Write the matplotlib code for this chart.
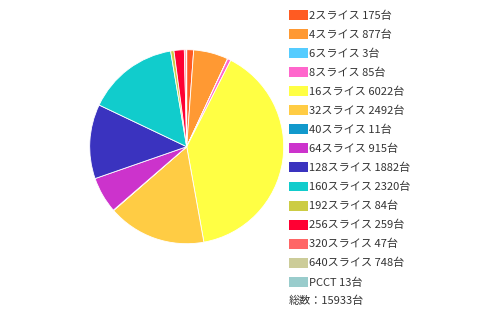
import matplotlib
matplotlib.use('Agg')
import matplotlib.pyplot as plt
from matplotlib.patches import Patch

plt.rcParams['font.family'] = ['Noto Sans CJK JP', 'DejaVu Sans']

# データ
labels = ['2スライス', '4スライス', '6スライス', '8スライス', '16スライス', '32スライス',
          '40スライス', '64スライス', '128スライス', '160スライス', '192スライス',
          '256スライス', '320スライス', '640スライス', 'PCCT']
counts = [175, 877, 3, 85, 6022, 2492, 11, 915, 1882, 2320, 84, 259, 47, 748, 13]
# 円グラフには640スライスが描かれていない
pie_counts = [175, 877, 3, 85, 6022, 2492, 11, 915, 1882, 2320, 84, 259, 47, 0, 13]
colors = ['#ff5b22', '#ff9933', '#55ccff', '#ff66cc', '#ffff44', '#ffcc44',
          '#1199cc', '#cc33cc', '#3a33bf', '#11cccc', '#cccc44', '#ff0033',
          '#ff6666', '#cccc99', '#99cccc']
total = sum(counts)

fig = plt.figure(figsize=(5, 3.12), dpi=100)

# 円グラフ
ax = fig.add_axes([(186.7 - 97) / 500, (312 - 146.7 - 97) / 312, 194 / 500, 194 / 312])
ax.pie(pie_counts, colors=colors, startangle=90, counterclock=False,
       wedgeprops={'edgecolor': 'white', 'linewidth': 0.6})
ax.set_xlim(-1.0, 1.0)
ax.set_ylim(-1.0, 1.0)
ax.set_aspect('equal')

# 凡例
handles = [Patch(facecolor=c, edgecolor='none') for c in colors]
leg_labels = ['{} {}台'.format(l, n) for l, n in zip(labels, counts)]
fig.legend(handles, leg_labels, loc='upper left',
           bbox_to_anchor=(289 / 500, 1 - 10 / 312), frameon=False,
           fontsize=8, labelspacing=0.745, handlelength=1.75, handleheight=1.0,
           handletextpad=0.05, borderpad=0, borderaxespad=0, labelcolor='#333333')

fig.text(289 / 500, 1 - 301 / 312, '総数：{}台'.format(total), fontsize=8,
         color='#333333', va='center', ha='left')

plt.savefig('out.png', dpi=100)
